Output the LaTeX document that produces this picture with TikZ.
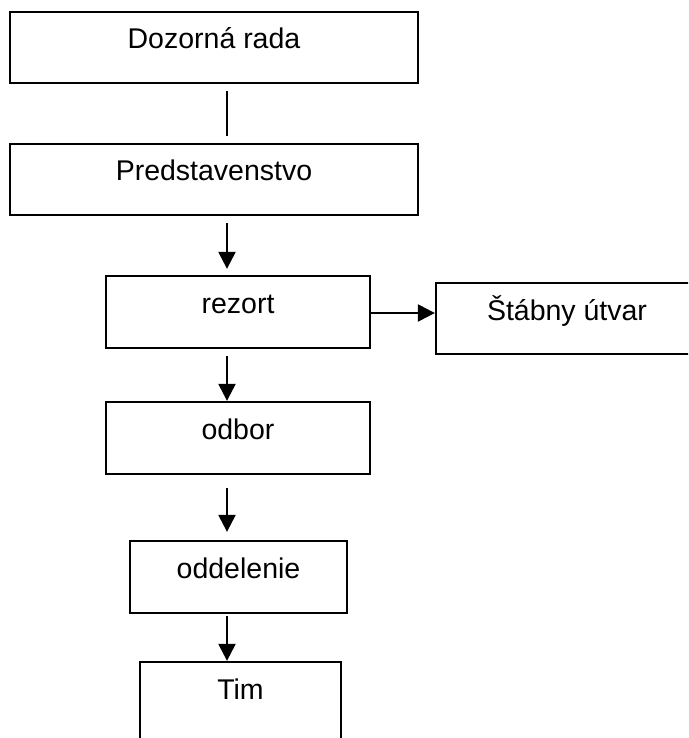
\documentclass[tikz,border=0pt]{standalone}
\usepackage{fontspec}
\setmainfont{Liberation Sans}
\usetikzlibrary{arrows.meta,positioning,calc}

\begin{document}
\begin{tikzpicture}[x=1pt, y=-1pt, line width=2.3pt,
    every node/.style={draw, rectangle, inner sep=0pt, text height=37pt, font=\fontsize{28.5}{34}\selectfont},
    arr/.style={-{Triangle[length=17pt, width=17pt]}}]
    \useasboundingbox (0,0) rectangle (688,738);
    \clip (0,0) rectangle (688,738);

    % Board
    \node[minimum width=408pt, text depth=34pt] (dozor) at (214,47.5) {Dozorná rada};
    \node[minimum width=408pt, text depth=34pt] (pred) at (214,179.5) {Predstavenstvo};

    % Departments
    \node[minimum width=264pt, text depth=35pt] (rezort) at (238,312) {rezort};
    \node[minimum width=262pt, text depth=34pt] (stab) at (567,318.5) {Štábny útvar};
    \node[minimum width=264pt, text depth=35pt] (odbor) at (238,438) {odbor};
    \node[minimum width=217pt, text depth=35pt] (oddel) at (238.5,577) {oddelenie};
    \node[minimum width=201pt, text depth=43pt] (tim) at (240.5,702) {Tim};

    % Connections
    \coordinate (axis) at (227,0);
    \draw[line width=2pt, shorten <=7pt, shorten >=7pt] (dozor.south -| axis) -- (pred.north -| axis);
    \draw[arr, shorten <=7pt, shorten >=6pt] (pred.south -| axis) -- (rezort.north -| axis);
    \draw[arr] ([yshift=-1pt]rezort.east) -- ([yshift=-1pt]rezort.east -| stab.west);
    \draw[arr, shorten <=7pt] (rezort.south -| axis) -- (odbor.north -| axis);
    \draw[arr, shorten <=13pt, shorten >=8pt] (odbor.south -| axis) -- (oddel.north -| axis);
    \draw[arr, shorten <=2pt] (oddel.south -| axis) -- (tim.north -| axis);

\end{tikzpicture}
\end{document}
